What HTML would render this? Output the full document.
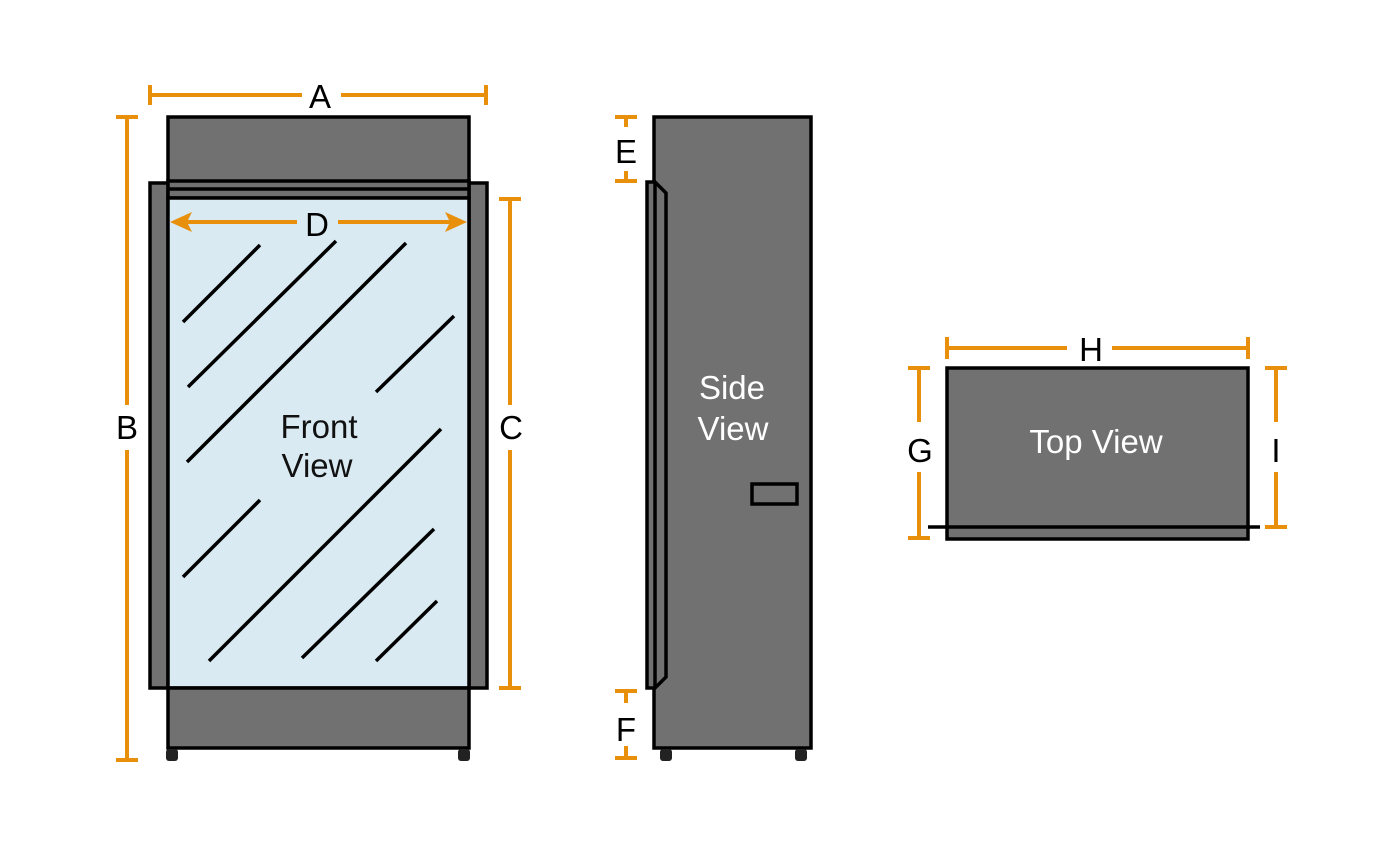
<!DOCTYPE html>
<html><head><style>
html,body{margin:0;padding:0;background:#fff;}
svg text{font-family:"Liberation Sans",sans-serif;font-size:33px;}
</style></head><body>
<svg width="1400" height="858" viewBox="0 0 1400 858" xmlns="http://www.w3.org/2000/svg">
<g stroke="#000" stroke-width="3.5" fill="#717171">
  <rect x="168" y="117" width="301" height="66"/>
  <rect x="150" y="183" width="18" height="505"/>
  <rect x="469" y="183" width="18" height="505"/>
  <rect x="168" y="181" width="301" height="17"/>
  <line x1="168" y1="189" x2="469" y2="189"/>
  <rect x="168" y="198" width="301" height="490" fill="#D9EAF2"/>
  <rect x="168" y="688" width="301" height="60"/>
  <rect x="166" y="749" width="12" height="12" rx="3" fill="#222" stroke="none"/>
  <rect x="458" y="749" width="12" height="12" rx="3" fill="#222" stroke="none"/>
  <rect x="654" y="117" width="157" height="631"/>
  <polygon points="647,182 655,182 666,193 666,677 655,688 647,688"/>
  <line x1="655" y1="182" x2="655" y2="688"/>
  <rect x="752" y="484" width="45" height="20"/>
  <rect x="660" y="749" width="12" height="12" rx="3" fill="#222" stroke="none"/>
  <rect x="795" y="749" width="12" height="12" rx="3" fill="#222" stroke="none"/>
  <rect x="947" y="368" width="301" height="171"/>
  <line x1="928" y1="527" x2="1260" y2="527"/>
</g>
<g stroke="#000" stroke-width="3.5">
  <line x1="183" y1="322" x2="260" y2="245"/>
  <line x1="188" y1="387" x2="336" y2="241"/>
  <line x1="187" y1="462" x2="406" y2="243"/>
  <line x1="376" y1="392" x2="454" y2="316"/>
  <line x1="183" y1="577" x2="260" y2="500"/>
  <line x1="209" y1="661" x2="441" y2="429"/>
  <line x1="302" y1="658" x2="434" y2="529"/>
  <line x1="376" y1="661" x2="437" y2="601"/>
</g>
<g stroke="#E8900C" stroke-width="4" fill="none">
  <line x1="150" y1="95" x2="302" y2="95"/><line x1="341" y1="95" x2="486" y2="95"/>
  <line x1="150" y1="85" x2="150" y2="105"/><line x1="486" y1="85" x2="486" y2="105"/>
  <line x1="127" y1="117" x2="127" y2="405"/><line x1="127" y1="450" x2="127" y2="760"/>
  <line x1="116" y1="117" x2="138" y2="117"/><line x1="116" y1="760" x2="138" y2="760"/>
  <line x1="510" y1="199" x2="510" y2="405"/><line x1="510" y1="450" x2="510" y2="688"/>
  <line x1="499" y1="199" x2="521" y2="199"/><line x1="499" y1="688" x2="521" y2="688"/>
  <line x1="180" y1="222" x2="297" y2="222"/><line x1="338" y1="222" x2="458" y2="222"/>
  <line x1="615" y1="117" x2="637" y2="117"/><line x1="626" y1="117" x2="626" y2="127"/>
  <line x1="615" y1="181" x2="637" y2="181"/><line x1="626" y1="171" x2="626" y2="181"/>
  <line x1="615" y1="691" x2="637" y2="691"/><line x1="626" y1="691" x2="626" y2="703"/>
  <line x1="615" y1="758" x2="637" y2="758"/><line x1="626" y1="746" x2="626" y2="758"/>
  <line x1="947" y1="348" x2="1067" y2="348"/><line x1="1112" y1="348" x2="1248" y2="348"/>
  <line x1="947" y1="337" x2="947" y2="359"/><line x1="1248" y1="337" x2="1248" y2="359"/>
  <line x1="919" y1="368" x2="919" y2="422"/><line x1="919" y1="472" x2="919" y2="538"/>
  <line x1="908" y1="368" x2="930" y2="368"/><line x1="908" y1="538" x2="930" y2="538"/>
  <line x1="1276" y1="368" x2="1276" y2="422"/><line x1="1276" y1="472" x2="1276" y2="527"/>
  <line x1="1265" y1="368" x2="1287" y2="368"/><line x1="1265" y1="527" x2="1287" y2="527"/>
</g>
<g fill="#E8900C">
  <polygon points="170,222 192,212 187,222 192,232"/>
  <polygon points="467,222 445,212 450,222 445,232"/>
</g>
<g fill="#000" text-anchor="middle">
  <text x="320" y="108">A</text>
  <text x="127" y="439">B</text>
  <text x="511" y="439">C</text>
  <text x="317" y="236">D</text>
  <text x="626" y="163">E</text>
  <text x="626" y="741">F</text>
  <text x="1091" y="361">H</text>
  <text x="920" y="462">G</text>
  <text x="1276" y="462">I</text>
  <text x="319" y="438" fill="#111">Front</text>
  <text x="317" y="477" fill="#111">View</text>
</g>
<g fill="#fff" text-anchor="middle">
  <text x="732" y="399">Side</text>
  <text x="733" y="440">View</text>
  <text x="1096" y="453">Top View</text>
</g>
</svg>
</body></html>
